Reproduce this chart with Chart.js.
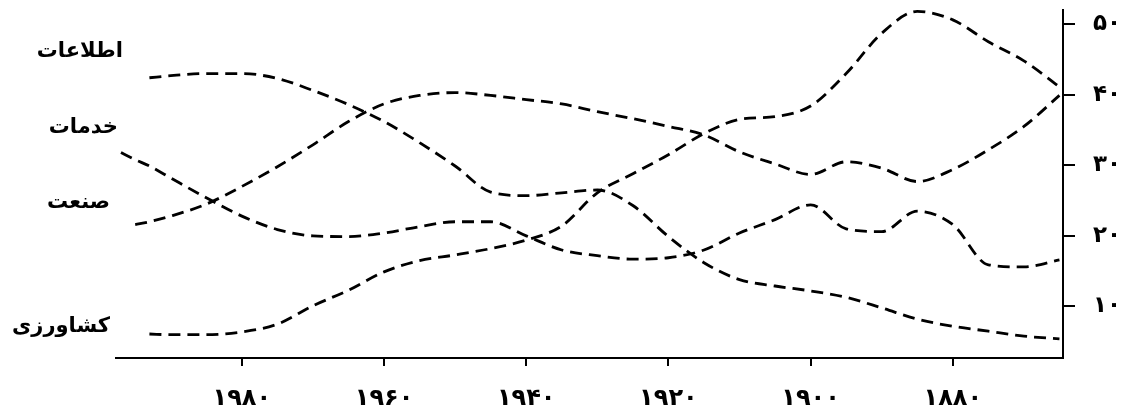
<!DOCTYPE html>
<html>
<head>
<meta charset="utf-8">
<script src="https://cdn.jsdelivr.net/npm/chart.js@4/dist/chart.umd.min.js"></script>
<style>
    body { margin: 0; background: #fff; }
</style>
</head>
<body>
<canvas id="canvas1" width="1134" height="417"></canvas>
<script>
// years run right-to-left on the axis
const years = [1997, 1995, 1993, 1990, 1985, 1980, 1975, 1970, 1965, 1960, 1955, 1950, 1945, 1940, 1935,
    1930, 1925, 1920, 1915, 1910, 1905, 1900, 1895, 1890, 1885, 1880, 1875, 1870, 1865];

const etelaat = [null, null, 42.4, 42.7, 43.0, 43.0, 42.3, 40.6, 38.6, 36.2, 33.2, 29.9, 26.2, 25.7, 26.1,
    26.5, 24.3, 19.9, 16.2, 13.8, 12.9, 12.2, 11.3, 9.8, 8.2, 7.2, 6.5, 5.8, 5.4];
const khadamat = [31.8, 30.8, 29.9, 28.2, 25.4, 22.8, 20.9, 20.0, 19.9, 20.4, 21.3, 22.0, 22.0, 20.0, 18.0,
    17.2, 16.7, 16.9, 18.0, 20.4, 22.3, 24.4, 21.0, 20.6, 23.5, 21.6, 15.9, 15.6, 16.6];
const sanat = [null, 21.6, 22.0, 22.8, 24.5, 27.0, 29.8, 32.9, 36.2, 38.7, 39.9, 40.3, 39.9, 39.3, 38.7,
    37.6, 36.6, 35.5, 34.3, 31.9, 30.2, 28.7, 30.5, 29.6, 27.7, 29.4, 32.2, 35.5, 39.9];
const keshavarzi = [null, null, 6.1, 6.0, 6.0, 6.4, 7.5, 10.1, 12.3, 14.9, 16.5, 17.3, 18.2, 19.4, 21.4,
    26.1, 28.8, 31.5, 34.5, 36.5, 36.9, 38.4, 43.0, 48.7, 51.8, 50.6, 47.5, 44.8, 41.1];

const seriesNames = ["اطلاعات", "خدمات", "صنعت", "کشاورزی"];
const xTicks = [1980, 1960, 1940, 1920, 1900, 1880];
const yTicks = [10, 20, 30, 40, 50];

function toFa(n) {
    return String(n).replace(/[0-9]/g, d => "۰۱۲۳۴۵۶۷۸۹"[d]);
}

function makeSet(values) {
    return {
        data: years.map((yr, i) => ({ x: yr, y: values[i] })),
        borderColor: '#000',
        borderWidth: 2.8,
        borderDash: [12, 7],
        pointRadius: 0,
        fill: false,
        cubicInterpolationMode: 'monotone'
    };
}

// names on the left, next to where each curve starts
const nameLabels = {
    id: 'nameLabels',
    afterDraw(chart) {
        const ctx = chart.ctx;
        const spots = [[123, 52], [118, 128], [110, 203], [110, 327]];
        ctx.save();
        ctx.fillStyle = '#000';
        ctx.font = 'bold 21px "DejaVu Sans"';
        ctx.textAlign = 'right';
        ctx.textBaseline = 'middle';
        ctx.direction = 'rtl';
        seriesNames.forEach((name, i) => ctx.fillText(name, spots[i][0], spots[i][1]));
        ctx.restore();
    }
};

function VeChart() {
    const data = {
        datasets: [makeSet(etelaat), makeSet(khadamat), makeSet(sanat), makeSet(keshavarzi)]
    };
    const config = {
        type: 'line',
        data: data,
        options: {
            responsive: false,
            animation: false,
            layout: { padding: { left: 116, top: 10 } },
            plugins: {
                legend: { display: false },
                tooltip: { enabled: false },
                title: { display: false }
            },
            scales: {
                x: {
                    type: 'linear',
                    reverse: true,
                    min: 1864.5,
                    max: 1997.7,
                    afterBuildTicks: s => { s.ticks = xTicks.map(v => ({ value: v })); },
                    afterFit: s => { s.height = 59; s.paddingLeft = 0; s.paddingRight = 0; },
                    border: { display: true, color: '#000', width: 2 },
                    grid: { drawOnChartArea: false, drawTicks: true, tickLength: 8, color: '#000', lineWidth: 2 },
                    ticks: {
                        color: '#000',
                        padding: 18,
                        maxRotation: 0,
                        font: { family: 'DejaVu Sans', size: 24, weight: 'bold' },
                        callback: v => toFa(v)
                    }
                },
                y: {
                    position: 'right',
                    min: 2.7,
                    max: 52,
                    afterBuildTicks: s => { s.ticks = yTicks.map(v => ({ value: v })); },
                    afterFit: s => { s.width = 71; s.paddingTop = 0; s.paddingBottom = 0; },
                    border: { display: true, color: '#000', width: 2 },
                    grid: { drawOnChartArea: false, drawTicks: true, tickLength: 12, color: '#000', lineWidth: 2 },
                    ticks: {
                        color: '#000',
                        padding: 18,
                        font: { family: 'DejaVu Sans', size: 23, weight: 'bold' },
                        callback: v => toFa(v)
                    }
                }
            }
        },
        plugins: [nameLabels]
    };
    var canvas = document.getElementById("canvas1");
    const chart = new Chart(canvas, config);
}

VeChart();
</script>
</body>
</html>
